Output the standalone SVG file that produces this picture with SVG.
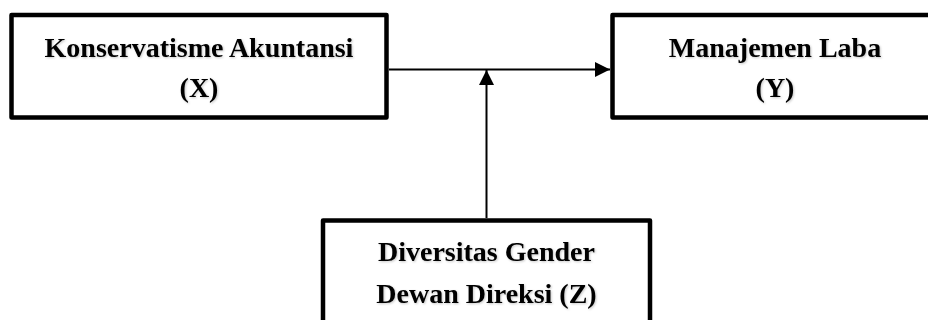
<svg xmlns="http://www.w3.org/2000/svg" width="928" height="320" viewBox="0 0 928 320">
  <style>
    .box { fill: #ffffff; stroke: #000000; stroke-width: 4.5; stroke-linejoin: round; }
    .lbl { font-family: "Liberation Serif", "DejaVu Serif", serif; font-weight: bold; font-size: 28px; fill: #000000; text-anchor: middle; filter: url(#tshadow); }
    .conn { stroke: #000000; stroke-width: 2; fill: none; }
  </style>
  <defs>
    <filter id="tshadow" x="-10%" y="-30%" width="120%" height="160%">
      <feDropShadow dx="1" dy="1" stdDeviation="0.8" flood-color="#000000" flood-opacity="0.22"/>
    </filter>
    <marker id="arrow" viewBox="0 0 15 15" refX="15" refY="7.5" markerWidth="15" markerHeight="15" markerUnits="userSpaceOnUse" orient="auto">
      <path d="M0,0 L15,7.5 L0,15 Z" fill="#000000"/>
    </marker>
  </defs>
  <rect width="928" height="320" fill="#ffffff"/>

  <g id="connectors">
    <line class="conn" x1="389" y1="69.5" x2="610" y2="69.5" marker-end="url(#arrow)"/>
    <line class="conn" x1="486.5" y1="218" x2="486.5" y2="70" marker-end="url(#arrow)"/>
  </g>

  <g id="node-x">
    <rect class="box" x="11.5" y="15" width="375" height="102.5"/>
    <text class="lbl" x="199" y="57">Konservatisme Akuntansi</text>
    <text class="lbl" x="199" y="97">(X)</text>
  </g>

  <g id="node-y">
    <rect class="box" x="612.5" y="15" width="325" height="102.5"/>
    <text class="lbl" x="775" y="57">Manajemen Laba</text>
    <text class="lbl" x="775" y="97">(Y)</text>
  </g>

  <g id="node-z">
    <rect class="box" x="323" y="220.5" width="327" height="120"/>
    <text class="lbl" x="486.5" y="261">Diversitas Gender</text>
    <text class="lbl" x="486.5" y="303">Dewan Direksi (Z)</text>
  </g>
</svg>
